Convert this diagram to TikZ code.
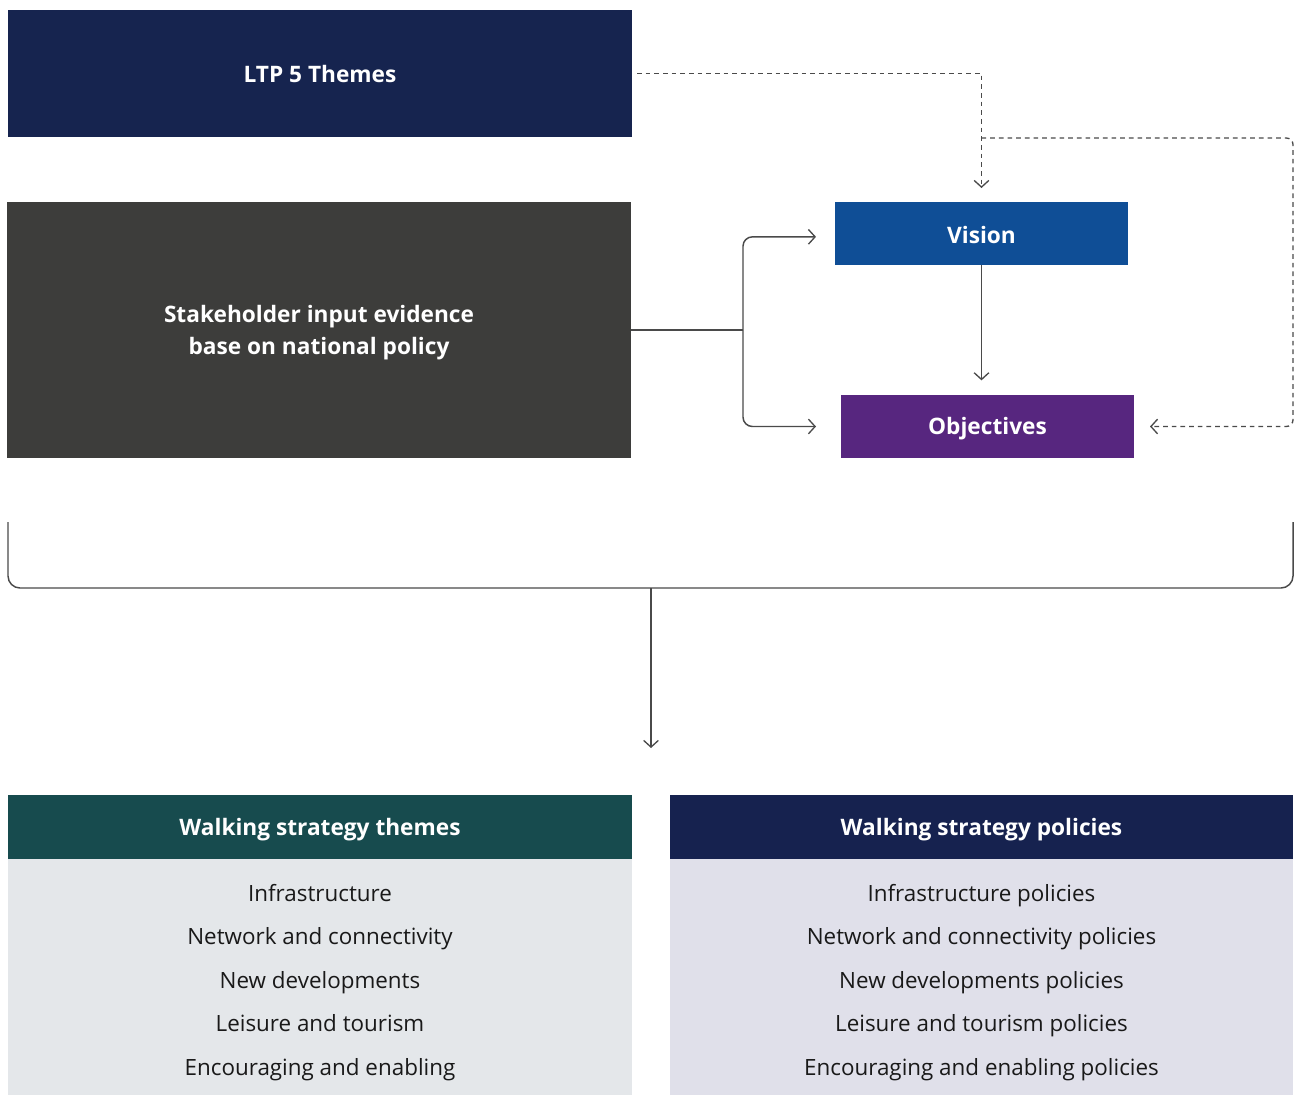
\documentclass[tikz,border=0pt]{standalone}
\usepackage{fontspec}
\setmainfont{Open Sans}
\usetikzlibrary{arrows.meta}
\definecolor{navyA}{HTML}{16244F}
\definecolor{darkgrey}{HTML}{3D3D3B}
\definecolor{visionblue}{HTML}{0F4E96}
\definecolor{objpurple}{HTML}{57267F}
\definecolor{tealhead}{HTML}{174B4E}
\definecolor{navyB}{HTML}{16224F}
\definecolor{bodyleft}{HTML}{E4E7EA}
\definecolor{bodyright}{HTML}{E0E0EA}
\definecolor{linegrey}{HTML}{4A4A4A}
\tikzset{
  box/.style={inner sep=0pt, outer sep=0pt},
  boxtext/.style={inner sep=0pt, outer sep=0pt, text=white, font=\fontsize{17}{24}\selectfont\bfseries, align=center},
  bodybox/.style={inner sep=0pt, outer sep=0pt, minimum width=468pt, minimum height=177pt},
  items/.style={inner sep=0pt, outer sep=0pt, align=center, text=black!90, font=\fontsize{16.8}{32.6}\selectfont},
  conn/.style={draw=linegrey, line width=1.1pt},
  dconn/.style={draw=linegrey, line width=1pt, dash pattern=on 3.5pt off 3pt},
  tip/.style={-{Straight Barb[length=5pt,width=11pt,line width=1pt]}},
}
\begin{document}
\begin{tikzpicture}[x=0.75pt,y=-0.75pt]
\useasboundingbox (0,0) rectangle (1298,1095);
% top boxes
\node[box, fill=navyA, minimum width=468pt, minimum height=95.25pt] (ltp) at (320,73.5) {};
\node[boxtext] (ltptext) at (320,74.5) {LTP 5 Themes};
\node[box, fill=darkgrey, minimum width=468pt, minimum height=192pt] (stake) at (319,329.5) {};
\node[boxtext] (staketext) at (319,333) {Stakeholder input evidence\\base on national policy};
\node[box, fill=visionblue, minimum width=219.75pt, minimum height=47.25pt] (vision) at (981.5,233.5) {};
\node[boxtext] (visiontext) at (981.5,234.5) {Vision};
\node[box, fill=objpurple, minimum width=219.75pt, minimum height=47.25pt] (obj) at (987.5,426.5) {};
\node[boxtext] (objtext) at (987.5,428.5) {Objectives};
% dashed connectors
\coordinate (split) at (981.5,138);
\draw[dconn, tip] ([xshift=3.75pt]ltp.east) -| ([yshift=10.5pt]vision.north);
\draw[dconn, tip, rounded corners=5pt] (split) -- (1293,138) -- (1293,426.5) -- ([xshift=12pt]obj.east);
% solid branch
\coordinate (branch) at (743,330);
\draw[conn] (stake.east |- branch) -- (branch);
\draw[conn, tip, rounded corners=7pt] (branch) |- ([xshift=-14.25pt,yshift=-2.5pt]vision.west);
\draw[conn, tip, rounded corners=7pt] (branch) |- ([xshift=-18.75pt]obj.west);
\draw[conn, tip] (vision.south) -- ([yshift=11pt]vision.south |- obj.north);
% bracket
\coordinate (bl) at (8,522);
\coordinate (br) at (1293,522);
\coordinate (bmid) at (651,588);
\draw[conn, rounded corners=9pt] (bl) -- (8,588) -- (1293,588) -- (br);
% bottom panels
\node[box, fill=tealhead, minimum width=468pt, minimum height=48pt] (themes) at (320,827) {};
\node[boxtext] (themestext) at (320,830) {Walking strategy themes};
\node[bodybox, fill=bodyleft] (themesbody) at (320,977) {};
\node[box, fill=navyB, minimum width=467.25pt, minimum height=48pt] (policies) at (981.5,827) {};
\node[boxtext] (policiestext) at (981.5,830) {Walking strategy policies};
\node[bodybox, fill=bodyright, minimum width=467.25pt] (policiesbody) at (981.5,977) {};
\draw[conn, tip] (bmid) -- (651,748);
\node[items] (themeitems) at (320,982.5) {Infrastructure\\Network and connectivity\\New developments\\Leisure and tourism\\Encouraging and enabling};
\node[items] (policyitems) at (981.5,982.5) {Infrastructure policies\\Network and connectivity policies\\New developments policies\\Leisure and tourism policies\\Encouraging and enabling policies};
\end{tikzpicture}
\end{document}
